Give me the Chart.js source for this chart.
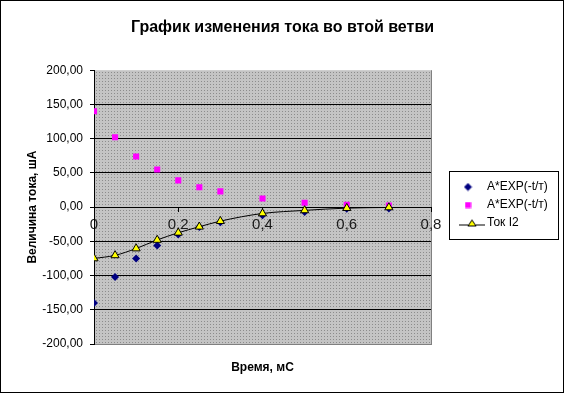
<!DOCTYPE html>
<html>
<head>
<meta charset="utf-8">
<script src="https://cdn.jsdelivr.net/npm/chart.js@4.4.1/dist/chart.umd.min.js"></script>
<style>
  body { margin: 0; background: #fff; }
  canvas { display: block; }
</style>
</head>
<body>
<canvas id="chart-current" width="565" height="394"></canvas>
<script>
// time, ms
const times = [0, 0.05, 0.1, 0.15, 0.2, 0.25, 0.3, 0.4, 0.5, 0.6, 0.7];
// A*EXP(-t/т), negative branch (navy diamonds)
const expNeg = [-140, -102, -75, -56, -40, -29, -22, -12, -7, -2.5, -2];
// A*EXP(-t/т), positive branch (magenta squares)
const expPos = [140, 102, 74, 55, 39, 29, 23, 12.5, 6.3, 3.4, 2.4];
// Ток I2 (yellow triangles + line)
const currentI2 = [-75, -70.5, -60.5, -48, -37.5, -28.7, -20.5, -9.3, -4.8, -1.5, -0.5];

const xTicks = [0, 0.2, 0.4, 0.6, 0.8];
const xTickLabels = ["0", "0,2", "0,4", "0,6", "0,8"];
const yTicks = [-200, -150, -100, -50, 0, 50, 100, 150, 200];
const yTickLabels = ["-200,00", "-150,00", "-100,00", "-50,00", "0,00", "50,00", "100,00", "150,00", "200,00"];

const seriesNames = ["A*EXP(-t/т)", "A*EXP(-t/т)", "Ток I2"];

function points(arr) {
    return times.map((t, i) => ({ x: t, y: arr[i] }));
}

// small canvases used as legend symbols
function symbolCanvas(w, h, draw) {
    const c = document.createElement("canvas");
    c.width = w; c.height = h;
    draw(c.getContext("2d"), w, h);
    return c;
}
const legendDiamond = symbolCanvas(9, 9, (g) => {
    g.fillStyle = "#000080";
    g.beginPath(); g.moveTo(4.5, 0.5); g.lineTo(8.5, 4.5); g.lineTo(4.5, 8.5); g.lineTo(0.5, 4.5); g.closePath(); g.fill();
});
const legendSquare = symbolCanvas(7, 7, (g) => {
    g.fillStyle = "#ff00ff";
    g.fillRect(0.5, 0.5, 6, 6);
});
const legendLine = symbolCanvas(34, 9, (g) => {
    g.strokeStyle = "#000"; g.lineWidth = 1;
    g.beginPath(); g.moveTo(8, 6.5); g.lineTo(34, 6.5); g.stroke();
    g.fillStyle = "#ffff00";
    g.beginPath(); g.moveTo(21, 1.5); g.lineTo(25, 7.5); g.lineTo(17, 7.5); g.closePath(); g.fill(); g.stroke();
});
const legendSymbols = [legendDiamond, legendSquare, legendLine];

// dotted grey fill of the plot area
const tile = symbolCanvas(3, 3, (g) => {
    g.fillStyle = "#c4c4c4"; g.fillRect(0, 0, 3, 3);
    g.fillStyle = "#8c8c8c"; g.fillRect(0, 0, 1, 1);
});

const framePlugin = {
    id: "frame",
    beforeDraw(chart) {
        const { ctx, chartArea: a } = chart;
        ctx.save();
        ctx.fillStyle = "#fff";
        ctx.fillRect(0, 0, chart.width, chart.height);
        ctx.fillStyle = ctx.createPattern(tile, "repeat");
        ctx.fillRect(a.left, a.top, a.right - a.left, a.bottom - a.top);
        ctx.strokeStyle = "#808080";
        ctx.beginPath(); ctx.moveTo(a.right + 0.5, a.top); ctx.lineTo(a.right + 0.5, a.bottom + 1); ctx.stroke();
        ctx.restore();
    },
    afterLayout(chart) {
        // place the legend box where the spreadsheet had it
        const lg = chart.legend;
        lg.left = 449; lg.top = 171; lg.right = 558; lg.bottom = 239;
        lg.width = lg.right - lg.left; lg.height = lg.bottom - lg.top;
    },
    afterDraw(chart) {
        const { ctx } = chart;
        const lg = chart.legend;
        ctx.save();
        ctx.strokeStyle = "#000"; ctx.lineWidth = 1;
        ctx.strokeRect(lg.left + 0.5, lg.top + 0.5, lg.width, lg.height);
        ctx.strokeRect(0.5, 0.5, chart.width - 2, chart.height - 2);
        ctx.restore();
    }
};

const ctx = document.getElementById("chart-current").getContext("2d");
new Chart(ctx, {
    type: "scatter",
    data: {
        datasets: [{
            label: seriesNames[0],
            data: points(expNeg),
            pointStyle: "rectRot",
            pointRadius: 4,
            backgroundColor: "#000080",
            borderColor: "#000080",
            borderWidth: 0,
            order: 2
        }, {
            label: seriesNames[1],
            data: points(expPos),
            pointStyle: "rect",
            pointRadius: 4.3,
            backgroundColor: "#ff00ff",
            borderColor: "#ff00ff",
            borderWidth: 0,
            order: 1
        }, {
            label: seriesNames[2],
            data: points(currentI2),
            showLine: true,
            cubicInterpolationMode: "monotone",
            pointStyle: "triangle",
            pointRadius: 4.7,
            backgroundColor: "#ffff00",
            pointBackgroundColor: "#ffff00",
            pointBorderColor: "#000",
            pointBorderWidth: 1,
            borderColor: "#000",
            borderWidth: 1,
            order: 0
        }]
    },
    options: {
        responsive: false,
        animation: false,
        layout: { padding: 0 },
        plugins: {
            title: {
                display: true,
                text: "График изменения тока во втой ветви",
                color: "#000",
                font: { family: "Liberation Sans", size: 16, weight: "bold" },
                padding: { top: 18, bottom: 33 }
            },
            legend: {
                display: true,
                position: "chartArea",
                labels: {
                    usePointStyle: true,
                    pointStyleWidth: 26,
                    padding: 6,
                    color: "#000",
                    font: { family: "Liberation Sans", size: 12 },
                    sort: (a, b) => a.datasetIndex - b.datasetIndex,
                    generateLabels(chart) {
                        const items = Chart.defaults.plugins.legend.labels.generateLabels(chart);
                        items.forEach((it) => { it.pointStyle = legendSymbols[it.datasetIndex]; });
                        return items;
                    }
                }
            },
            tooltip: { enabled: false }
        },
        scales: {
            x: {
                type: "linear",
                min: 0,
                max: 0.8,
                position: { y: 0 },
                afterBuildTicks: (s) => { s.ticks = xTicks.map((v) => ({ value: v })); },
                ticks: {
                    padding: 5,
                    color: "#1a1a1a",
                    font: { family: "Liberation Sans Narrow, Liberation Sans", size: 15 },
                    callback: (v) => xTickLabels[xTicks.indexOf(Math.round(v * 10) / 10)]
                },
                grid: { display: true, drawOnChartArea: false, drawTicks: true, tickLength: 4, color: "#000" },
                border: { display: true, color: "#000", width: 1 }
            },
            xb: {
                type: "linear",
                position: "bottom",
                ticks: { display: false },
                grid: { display: false },
                border: { display: false },
                title: {
                    display: true,
                    text: "Время, мС",
                    color: "#000",
                    font: { family: "Liberation Sans", size: 12, weight: "bold" },
                    padding: { top: 16, bottom: 19 }
                },
                afterFit: (s) => { s.height = 50; }
            },
            y: {
                type: "linear",
                min: -200,
                max: 200,
                position: "left",
                afterBuildTicks: (s) => { s.ticks = yTicks.map((v) => ({ value: v })); },
                afterFit: (s) => { s.width = 94; },
                ticks: {
                    padding: 7,
                    color: "#000",
                    font: { family: "Liberation Sans", size: 12 },
                    callback: (v) => yTickLabels[yTicks.indexOf(v)]
                },
                grid: {
                    color: (c) => c.tick && c.tick.value === 200 ? "rgba(0,0,0,0)" : (c.tick && c.tick.value === -200 ? "#808080" : "#000"),
                    tickColor: "#000",
                    tickLength: 4,
                    lineWidth: 1
                },
                border: { display: true, color: "#000", width: 1 },
                title: {
                    display: true,
                    text: "Величина тока, шА",
                    color: "#000",
                    font: { family: "Liberation Sans", size: 12, weight: "bold" },
                    padding: { top: 25, bottom: 0 }
                }
            },
            // empty right-hand band that holds the legend
            yr: {
                type: "linear",
                position: "right",
                ticks: { display: false },
                grid: { display: false },
                border: { display: false },
                afterFit: (s) => { s.width = 134; }
            }
        }
    },
    plugins: [framePlugin]
});
</script>
</body>
</html>
